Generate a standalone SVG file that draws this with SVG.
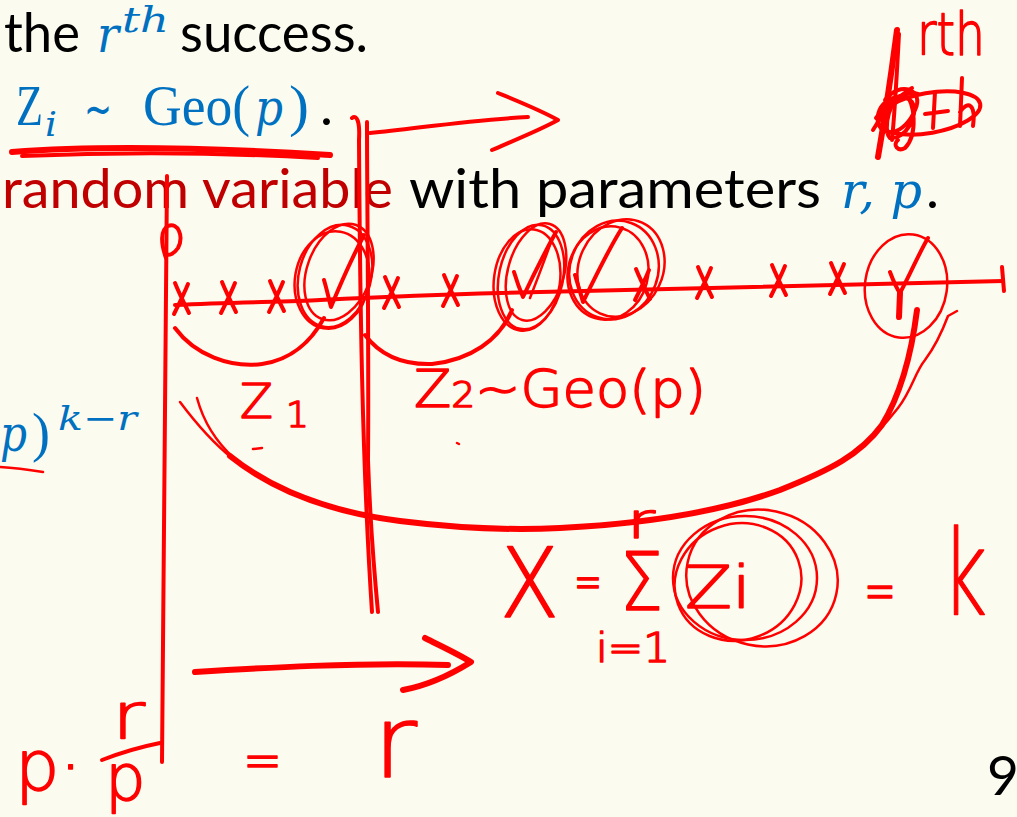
<svg xmlns="http://www.w3.org/2000/svg" width="1017" height="817" viewBox="0 0 1017 817">
<style>
.bg{fill:#fbfbef}
.body{font-family:Lato,"Open Sans",sans-serif;font-size:55px;fill:#000}
.dred{fill:#c00000}
.math{font-family:"Liberation Serif","DejaVu Serif",serif;font-weight:400;fill:#0070c0}
.it{font-family:"DejaVu Serif","Liberation Serif",serif;font-style:italic;font-weight:400}
.pen{fill:none;stroke:#ff0000;stroke-width:4;stroke-linecap:round;stroke-linejoin:round}
.thick{stroke-width:6}
.thin{stroke-width:2.5}
.hw{font-family:"DejaVu Sans",sans-serif;font-weight:200;fill:#ff0000;stroke:#ff0000;stroke-width:1.6;stroke-linejoin:round}
</style>
<defs>
<path id="xm" class="pen" d="M-7,-15 C-3,-5 2,5 7,15 M6,-14 C2,-4 -3,6 -8,16"/>
</defs>
<rect class="bg" x="0" y="0" width="1017" height="817"/>

<g id="slide-text">
<text class="body" x="4" y="52" textLength="76" lengthAdjust="spacingAndGlyphs">the</text>
<text class="math it" x="97" y="52" font-size="50" textLength="22" lengthAdjust="spacingAndGlyphs">r</text>
<text class="math it" x="122" y="32" font-size="36" textLength="47" lengthAdjust="spacingAndGlyphs">th</text>
<text class="body" x="180" y="52" textLength="188" lengthAdjust="spacingAndGlyphs">success.</text>

<text class="math" x="16" y="125" font-size="56" textLength="27" lengthAdjust="spacingAndGlyphs">Z</text>
<text class="math it" x="45" y="136" font-size="34" textLength="12" lengthAdjust="spacingAndGlyphs">i</text>
<text x="84" y="126" font-family="DejaVu Sans, sans-serif" font-size="50" fill="#0070c0" textLength="28" lengthAdjust="spacingAndGlyphs">∼</text>
<text class="math" x="143" y="125" font-size="56" textLength="107" lengthAdjust="spacingAndGlyphs">Geo(</text>
<text class="math it" x="255" y="125" font-size="50" textLength="28" lengthAdjust="spacingAndGlyphs">p</text>
<text class="math" x="289" y="125" font-size="56" textLength="20" lengthAdjust="spacingAndGlyphs">)</text>
<text class="body" x="320" y="125">.</text>

<text class="body dred" x="2" y="208" textLength="391" lengthAdjust="spacingAndGlyphs">random variable</text>
<text class="body" x="409" y="208" textLength="412" lengthAdjust="spacingAndGlyphs">with parameters</text>
<text class="math it" x="841" y="208" font-size="50" textLength="81" lengthAdjust="spacingAndGlyphs">r, p</text>
<text class="body" x="926" y="208">.</text>

<text class="math it" x="0" y="451" font-size="50" textLength="27" lengthAdjust="spacingAndGlyphs">p</text>
<text class="math" x="32" y="451" font-size="54">)</text>
<text class="math it" x="58" y="430" font-size="34" textLength="79" lengthAdjust="spacingAndGlyphs">k−r</text>

<text class="body" x="987" y="795" font-size="34">9</text>
</g>

<g id="annotations">
<!-- underline -->
<path class="pen thick" d="M12,152 C90,146 200,147 330,155"/>
<path class="pen" d="M22,156 C120,152 230,153 318,158"/>
<path class="pen thin" d="M0,467 C15,468 30,470 43,472"/>

<!-- left vertical line with loop -->
<path class="pen" d="M167,176 C166,300 164,480 162,762"/>
<path class="pen" d="M166,258 C161,244 160,230 168,226 C178,222 184,236 178,248 C174,254 169,256 166,254"/>

<!-- double vertical line -->
<path class="pen" d="M352,118 C357,114 360,122 359,140 C360,300 362,460 372,612"/>
<path class="pen" d="M367,122 C367,200 369,350 368,460 C370,520 374,570 378,612"/>

<!-- top arrow -->
<path class="pen" d="M370,133 C420,128 470,120 528,117"/>
<path class="pen" d="M498,93 C520,102 540,110 558,120 C540,130 515,140 492,150"/>

<!-- timeline -->
<path class="pen" d="M175,305 C240,302 290,302 320,300 C360,298 420,295 500,293 C650,289 800,285 1003,281"/>
<path class="pen" d="M1002,267 L1004,291"/>

<!-- failures -->
<use href="#xm" x="182" y="298"/>
<use href="#xm" x="229" y="297"/>
<use href="#xm" x="277" y="296"/>
<use href="#xm" x="392" y="292"/>
<use href="#xm" x="451" y="290"/>
<use href="#xm" x="643" y="284"/>
<use href="#xm" x="705" y="282"/>
<use href="#xm" x="779" y="280"/>
<use href="#xm" x="838" y="278"/>

<!-- successes -->
<path class="pen" d="M324,280 C327,290 329,300 331,307 C340,285 352,258 364,235"/>
<path class="pen" d="M514,272 C517,282 520,290 523,297 C532,278 545,252 556,232"/>
<path class="pen thin" d="M530,298 C537,280 544,262 551,242"/>
<path class="pen" d="M575,275 C578,285 581,295 583,302 C595,278 608,250 622,228"/>
<path class="pen" d="M890,272 C893,280 896,288 900,293 C910,275 918,255 928,238"/>
<path class="pen thick" d="M900,293 L899,317"/>

<!-- circles -->
<g class="pen thin">
<ellipse cx="335" cy="276" rx="36" ry="52" transform="rotate(15 335 276)"/>
<ellipse cx="339" cy="272" rx="32" ry="50" transform="rotate(20 339 272)"/>
<ellipse cx="332" cy="280" rx="37" ry="49" transform="rotate(10 332 280)"/>
<ellipse cx="531" cy="277" rx="32" ry="53" transform="rotate(12 531 277)"/>
<ellipse cx="536" cy="272" rx="28" ry="50" transform="rotate(16 536 272)"/>
<ellipse cx="527" cy="280" rx="33" ry="51" transform="rotate(8 527 280)"/>
<ellipse cx="614" cy="270" rx="44" ry="50" transform="rotate(20 614 270)"/>
<ellipse cx="608" cy="273" rx="40" ry="47" transform="rotate(15 608 273)"/>
<ellipse cx="621" cy="268" rx="42" ry="50" transform="rotate(25 621 268)"/>
<ellipse cx="906" cy="286" rx="41" ry="52" transform="rotate(8 906 286)"/>
</g>

<!-- arcs under segments -->
<path class="pen" d="M175,328 C195,355 230,368 262,364 C292,360 312,340 324,318"/>
<path class="pen" d="M365,335 C380,355 402,365 432,364 C470,360 500,340 512,310"/>

<!-- big curve -->
<path class="pen thick" d="M917,310 C912,350 902,392 882,425 C860,455 830,470 780,490 C720,512 640,524 560,528 C500,531 440,526 400,521 C360,516 320,505 290,492 C265,481 245,468 230,456"/>
<path class="pen thin" d="M180,402 C195,422 212,442 232,458"/>
<path class="pen thin" d="M197,398 C203,420 214,440 234,458"/>
<path class="pen thin" d="M957,311 L948,316 C942,332 934,348 925,360 C915,372 912,390 898,408 C885,425 870,440 855,450"/>

<!-- lower arrow -->
<path class="pen thick" d="M195,672 C260,668 360,662 448,665"/>
<path class="pen thick" d="M425,638 C445,648 460,655 471,662 C455,672 430,685 403,690"/>

<!-- circles around Zi -->
<g class="pen thin">
<ellipse cx="745" cy="578" rx="72" ry="62"/>
<ellipse cx="738" cy="582" rx="64" ry="58" transform="rotate(-20 738 582)"/>
<ellipse cx="762" cy="578" rx="76" ry="68" transform="rotate(12 762 578)"/>
</g>

<!-- fraction line -->
<path class="pen" d="M102,760 C120,753 140,747 160,743"/>

<!-- small marks -->
<path class="pen thin" d="M253,449 L262,448"/>
<path class="pen thin" d="M457,443 L459,444"/>

<!-- scribble top right -->
<path class="pen thick" d="M897,30 C893,60 888,100 878,157"/>
<path class="pen" d="M899,34 C897,70 895,110 892,140"/>
<path class="pen" d="M885,100 C900,80 925,90 915,110 C905,135 880,140 878,120 C876,100 902,90 912,102 C920,115 905,140 890,138 C882,130 890,95 905,95 C915,100 918,135 905,148 C898,152 892,145 898,140"/>
<path class="pen" d="M873,130 C885,110 900,95 912,88 M876,118 C890,100 905,90 918,94"/>
<ellipse class="pen" cx="929" cy="113" rx="52" ry="20" transform="rotate(-10 929 113)"/>
<path class="pen" d="M935,92 L933,128 M925,114 L948,111 M962,78 L960,126 M960,112 C968,100 976,104 973,126"/>
</g>

<g id="handwriting">
<text class="hw" x="917" y="55" font-size="58" textLength="68" lengthAdjust="spacingAndGlyphs">rth</text>
<text class="hw" x="240" y="418" font-size="48">Z<tspan x="286" y="427" font-size="36">1</tspan></text>
<text class="hw" x="414" y="407" font-size="52" textLength="292" lengthAdjust="spacingAndGlyphs">Z<tspan font-size="36">2</tspan>~Geo(p)</text>

<text class="hw" x="500" y="617" font-size="96" textLength="59" lengthAdjust="spacingAndGlyphs">X</text>
<text class="hw" x="574" y="599" font-size="52" textLength="28" lengthAdjust="spacingAndGlyphs">=</text>
<text class="hw" x="620" y="610" font-size="80" textLength="43" lengthAdjust="spacingAndGlyphs">Σ</text>
<text class="hw" x="627" y="538" font-size="50" textLength="28" lengthAdjust="spacingAndGlyphs">r</text>
<text class="hw" x="596" y="662" font-size="40" textLength="74" lengthAdjust="spacingAndGlyphs">i=1</text>
<text class="hw" x="685" y="608" font-size="58" textLength="66" lengthAdjust="spacingAndGlyphs">Zi</text>
<text class="hw" x="864" y="611" font-size="60" textLength="32" lengthAdjust="spacingAndGlyphs">=</text>
<text class="hw" x="942" y="615" font-size="118" textLength="45" lengthAdjust="spacingAndGlyphs">k</text>

<text class="hw" x="15" y="790" font-size="70">p·</text>
<text class="hw" x="112" y="738" font-size="64" textLength="33" lengthAdjust="spacingAndGlyphs">r</text>
<text class="hw" x="105" y="800" font-size="64">p</text>
<text class="hw" x="243" y="779" font-size="56" textLength="39" lengthAdjust="spacingAndGlyphs">=</text>
<text class="hw" x="373" y="777" font-size="100" textLength="44" lengthAdjust="spacingAndGlyphs">r</text>
</g>
</svg>
